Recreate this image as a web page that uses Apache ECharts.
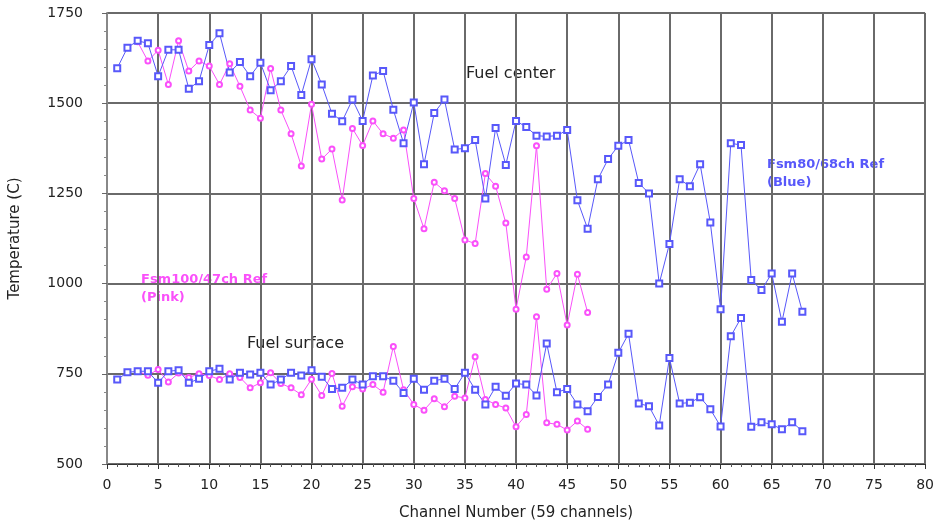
<!DOCTYPE html>
<html>
<head>
<meta charset="utf-8">
<title>Fuel temperature</title>
<script src="https://cdn.jsdelivr.net/npm/echarts@6/dist/echarts.min.js"></script>
<style>
    html, body { margin: 0; padding: 0; background: #fff; }
    .chart { width: 937px; height: 527px; }
</style>
</head>
<body>
<div class="chart"></div>
<script>
// first channel of each run, then one value per channel
var blueStart = 1;
var pinkStart = 3;

// Fsm80/68ch Ref (Blue)
var blueCenter = [1597, 1654, 1673, 1666, 1575, 1648, 1648, 1540, 1561, 1661,
    1694, 1585, 1614, 1575, 1612, 1536, 1561, 1603, 1523, 1622,
    1552, 1471, 1450, 1510, 1451, 1577, 1589, 1482, 1389, 1502,
    1331, 1473, 1510, 1372, 1375, 1398, 1236, 1431, 1329, 1451,
    1434, 1410, 1408, 1410, 1426, 1231, 1152, 1289, 1345, 1382,
    1398, 1279, 1250, 1000, 1110, 1289, 1270, 1331, 1169, 929,
    1389, 1384, 1010, 982, 1028, 894, 1028, 922];
var blueSurface = [734, 754, 757, 757, 725, 757, 760, 725, 736, 757,
    764, 734, 753, 748, 753, 720, 734, 753, 745, 760,
    742, 708, 711, 734, 720, 743, 743, 731, 697, 736,
    706, 731, 736, 708, 753, 706, 665, 714, 689, 723,
    720, 690, 834, 699, 708, 665, 646, 686, 720, 808,
    861, 668, 660, 607, 794, 668, 670, 685, 652, 604,
    854, 905, 603, 616, 610, 596, 616, 591];

// Fsm100/47ch Ref (Pink)
var pinkCenter = [1670, 1617, 1647, 1552, 1673, 1589, 1617, 1603,
    1552, 1609, 1547, 1481, 1458, 1596, 1481, 1415, 1326, 1497,
    1345, 1373, 1232, 1430, 1383, 1451, 1415, 1403, 1426, 1236,
    1152, 1281, 1257, 1236, 1121, 1111, 1305, 1270, 1168, 929,
    1074, 1382, 984, 1028, 885, 1026, 920];
var pinkSurface = [757, 746, 762, 727, 752, 740, 750, 745,
    734, 750, 740, 711, 725, 753, 723, 711, 692, 735,
    690, 751, 660, 714, 708, 720, 699, 826, 706, 665,
    649, 681, 659, 688, 683, 797, 679, 665, 655, 603,
    637, 908, 614, 610, 594, 619, 596];

var xTicks = { min: 0, max: 80, step: 5 };
var yTicks = { min: 500, max: 1750, step: 250 };

var blueColor = '#5858fa';
var pinkColor = '#fa50fa';

function pairs(start, values) {
    return values.map(function (v, i) { return [start + i, v]; });
}

function lineSeries(name, data, color, symbol, size) {
    return {
        name: name,
        type: 'line',
        data: data,
        symbol: symbol,
        symbolSize: size,
        showAllSymbol: true,
        lineStyle: { color: color, width: 1 },
        itemStyle: { color: color, borderColor: color, borderWidth: 1 },
        emphasis: { disabled: true },
        animation: false
    };
}

var myChart = echarts.init(document.querySelector('.chart'));
var option = {
    backgroundColor: '#fff',
    animation: false,
    grid: { left: 107, right: 11, top: 13, bottom: 63 },
    xAxis: {
        type: 'value',
        min: xTicks.min,
        max: xTicks.max,
        interval: xTicks.step,
        name: 'Channel Number (59 channels)',
        nameLocation: 'middle',
        nameGap: 42,
        nameTextStyle: { color: '#222', fontSize: 15, fontFamily: 'DejaVu Sans' },
        axisLine: { lineStyle: { color: '#333', width: 1 } },
        axisTick: { length: 5, lineStyle: { color: '#333' } },
        minorTick: { show: true, splitNumber: 5, length: 3, lineStyle: { color: '#555' } },
        axisLabel: { color: '#222', fontSize: 14, fontFamily: 'DejaVu Sans', margin: 14 },
        splitLine: { show: true, lineStyle: { color: '#6a6a6a', width: 2 } }
    },
    yAxis: {
        type: 'value',
        min: yTicks.min,
        max: yTicks.max,
        interval: yTicks.step,
        name: 'Temperature (C)',
        nameLocation: 'middle',
        nameGap: 84,
        nameTextStyle: { color: '#222', fontSize: 15, fontFamily: 'DejaVu Sans' },
        axisLine: { show: true, lineStyle: { color: '#888', width: 2 } },
        axisTick: { show: true, length: 5, lineStyle: { color: '#666' } },
        minorTick: { show: true, splitNumber: 5, length: 3, lineStyle: { color: '#888' } },
        axisLabel: {
            color: '#222', fontSize: 14, fontFamily: 'DejaVu Sans', margin: 24,
            formatter: function (v) { return String(v); }
        },
        splitLine: { show: true, lineStyle: { color: '#6a6a6a', width: 2 } }
    },
    graphic: [
        { type: 'text', left: 466, top: 66, style: { text: 'Fuel center', fill: '#222', font: '16px "DejaVu Sans"' } },
        { type: 'text', left: 247, top: 336, style: { text: 'Fuel surface', fill: '#222', font: '16px "DejaVu Sans"' } },
        { type: 'text', left: 767, top: 158, style: { text: 'Fsm80/68ch Ref', fill: blueColor, font: 'bold 13px "DejaVu Sans"' } },
        { type: 'text', left: 767, top: 176, style: { text: '(Blue)', fill: blueColor, font: 'bold 13px "DejaVu Sans"' } },
        { type: 'text', left: 141, top: 273, style: { text: 'Fsm100/47ch Ref', fill: pinkColor, font: 'bold 13px "DejaVu Sans"' } },
        { type: 'text', left: 141, top: 291, style: { text: '(Pink)', fill: pinkColor, font: 'bold 13px "DejaVu Sans"' } }
    ],
    series: [
        lineSeries('Pink center', pairs(pinkStart, pinkCenter), pinkColor, 'emptyCircle', 5),
        lineSeries('Pink surface', pairs(pinkStart, pinkSurface), pinkColor, 'emptyCircle', 5),
        lineSeries('Blue center', pairs(blueStart, blueCenter), blueColor, 'emptyRect', 6),
        lineSeries('Blue surface', pairs(blueStart, blueSurface), blueColor, 'emptyRect', 6)
    ]
};
myChart.setOption(option);
</script>
</body>
</html>
